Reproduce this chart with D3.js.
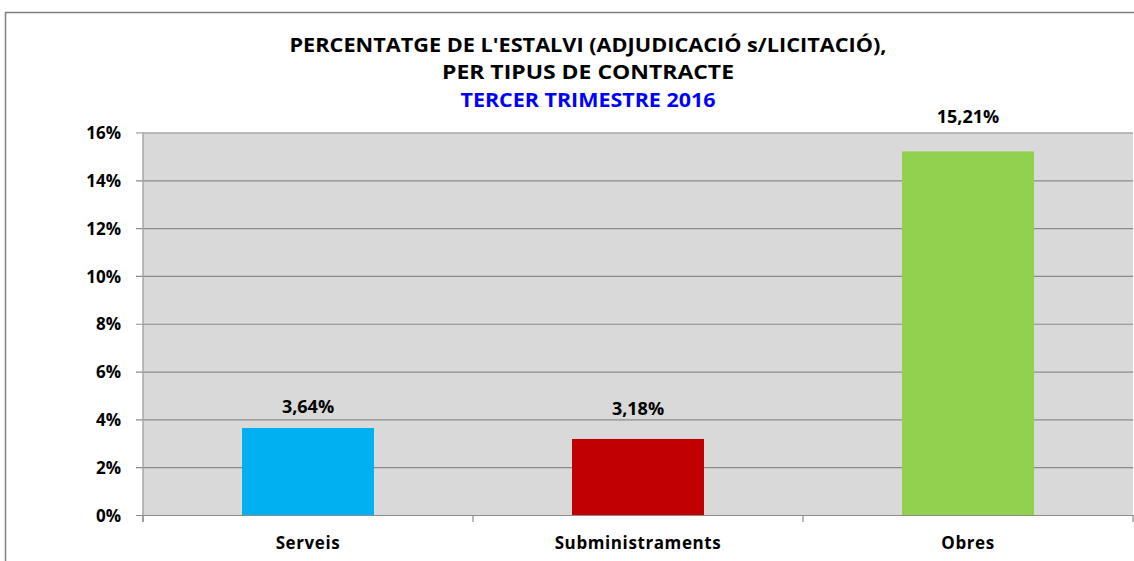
<!DOCTYPE html>
<html><head><meta charset="utf-8">
<script src="https://cdn.jsdelivr.net/npm/d3@7"></script>
<style>body{margin:0;background:#fff}svg{display:block}</style>
</head><body>
<script>
const categories = ["Serveis", "Subministraments", "Obres"];
const values = [3.64, 3.18, 15.21];
const valueLabels = ["3,64%", "3,18%", "15,21%"];
const colors = ["#00b0f0", "#c00000", "#92d050"];
const yTicks = [0, 2, 4, 6, 8, 10, 12, 14, 16];
const titleLines = ["PERCENTATGE DE L'ESTALVI (ADJUDICACIÓ s/LICITACIÓ),", "PER TIPUS DE CONTRACTE"];
const subtitle = "TERCER TRIMESTRE 2016";

(function () {
const W = 1134, H = 561;
const font = "'Open Sans', 'Noto Sans', sans-serif";
const labelOffsets = [21, 30, 35]; // layout: gap between bar top and label centre
const svg = d3.select("body").append("svg").attr("width", W).attr("height", H);

// outer border
svg.append("path").attr("d", `M5.5,${H+2} V12.5 H${W+2}`).attr("fill", "none").attr("stroke", "#808080").attr("stroke-width", 1.5);

const pLeft = 143, pRight = 1133, pTop = 132.5, pBottom = 515;
const x = d3.scaleBand().domain(categories).range([pLeft, pRight]).paddingInner(0).paddingOuter(0);
const y = d3.scaleLinear().domain([0, 16]).range([pBottom, pTop]);

svg.append("rect").attr("x", pLeft).attr("y", pTop).attr("width", pRight - pLeft).attr("height", pBottom - pTop).attr("fill", "#d9d9d9");

// gridlines
const yAxis = d3.axisLeft(y).tickValues(yTicks).tickSize(-(pRight - pLeft)).tickFormat(d => d + "%");
const gy = svg.append("g").attr("transform", `translate(${pLeft},0)`).call(yAxis);
gy.select(".domain").remove();
gy.selectAll(".tick line").attr("stroke", "#8c8c8c").attr("stroke-width", 1.2).attr("x1", -7);
gy.selectAll(".tick text").attr("x", -22).attr("dy", "0.36em").attr("font-family", font).attr("font-weight", "bold").attr("font-size", 17).attr("fill", "#000");

// vertical axis line
svg.append("line").attr("x1", pLeft).attr("x2", pLeft).attr("y1", pTop).attr("y2", pBottom + 7).attr("stroke", "#a6a6a6").attr("stroke-width", 1.5);

// bars
const barW = x.bandwidth() * 0.4;
svg.selectAll("rect.bar").data(values).join("rect").attr("class", "bar")
  .attr("x", (d, i) => x(categories[i]) + (x.bandwidth() - barW) / 2)
  .attr("width", barW)
  .attr("y", d => y(d))
  .attr("height", d => y(0) - y(d))
  .attr("fill", (d, i) => colors[i]);

// bottom axis
const xAxis = d3.axisBottom(x).tickSize(0).tickSizeOuter(0);
const gx = svg.append("g").attr("transform", `translate(0,${pBottom})`).call(xAxis);
gx.select(".domain").attr("stroke", "#8c8c8c").attr("stroke-width", 1.2);
gx.selectAll(".tick text").attr("y", 28).attr("dy", "0.36em").attr("font-family", font).attr("font-weight", "bold").attr("font-size", 17).attr("letter-spacing", "0.6px").attr("fill", "#000");
const bounds = categories.map(c => x(c)).concat([pRight]);
svg.selectAll("line.ctick").data(bounds).join("line").attr("class", "ctick")
  .attr("x1", d => d).attr("x2", d => d).attr("y1", pBottom).attr("y2", pBottom + 7)
  .attr("stroke", "#8c8c8c").attr("stroke-width", 1.2);

// value labels
svg.selectAll("text.vl").data(values).join("text").attr("class", "vl")
  .attr("x", (d, i) => x(categories[i]) + x.bandwidth() / 2)
  .attr("y", (d, i) => y(d) - labelOffsets[i]).attr("dy", "0.36em")
  .attr("text-anchor", "middle").attr("font-family", font).attr("font-weight", "bold").attr("font-size", 18)
  .text((d, i) => valueLabels[i]);

// title
const cx = 588;
const tAttrs = (sel, yy, len, fill) => sel.attr("x", cx).attr("y", yy).attr("text-anchor", "middle")
  .attr("font-family", font).attr("font-weight", "bold").attr("font-size", 19).attr("fill", fill)
  .attr("textLength", len).attr("lengthAdjust", "spacingAndGlyphs");
svg.append("text").call(tAttrs, 52, 597, "#000").text(titleLines[0]);
svg.append("text").call(tAttrs, 79, 292, "#000").text(titleLines[1]);
svg.append("text").call(tAttrs, 107, 255, "#0000ff").text(subtitle);
})();
</script>
</body></html>
